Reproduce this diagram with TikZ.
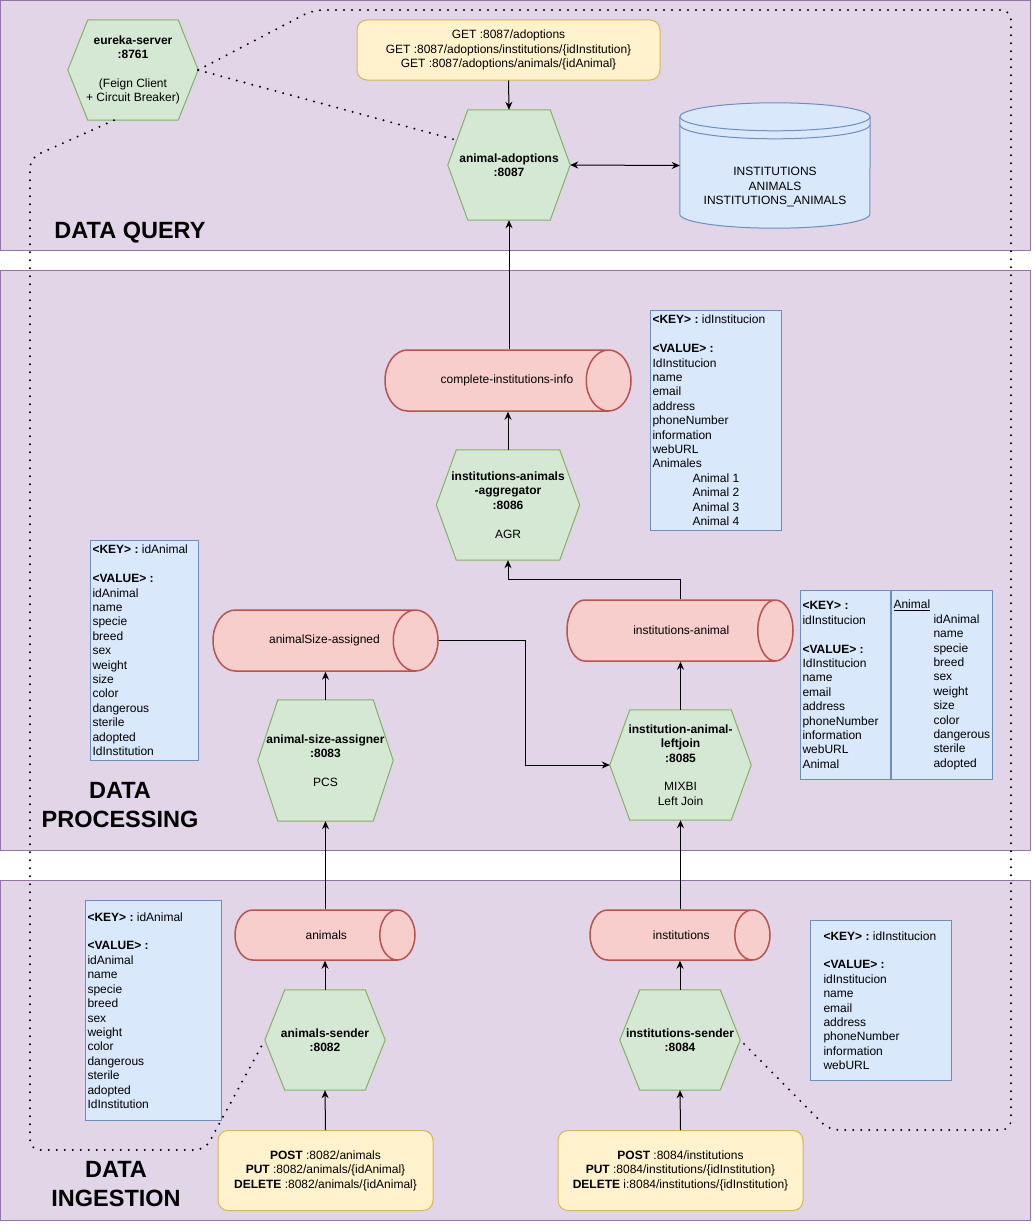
\documentclass[tikz,border=0pt]{standalone}
\usepackage{fontspec}
\setmainfont{Liberation Sans}
\usetikzlibrary{arrows.meta, positioning, shapes.geometric, calc, backgrounds}
\definecolor{laneFill}{HTML}{E1D5E7}
\definecolor{laneLine}{HTML}{9673A6}
\definecolor{hexFill}{HTML}{D5E8D4}
\definecolor{hexLine}{HTML}{82B366}
\definecolor{topicFill}{HTML}{F8CECC}
\definecolor{topicLine}{HTML}{B85450}
\definecolor{infoFill}{HTML}{DAE8FC}
\definecolor{infoLine}{HTML}{6C8EBF}
\definecolor{restFill}{HTML}{FFF2CC}
\definecolor{restLine}{HTML}{D6B656}
\pgfdeclarelayer{lanes}
\pgfsetlayers{lanes,background,main}
\frenchspacing

\begin{document}
\begin{tikzpicture}[x=1pt, y=-1pt,
    font=\fontsize{12}{14.4}\selectfont,
    lane/.style={draw=laneLine, fill=laneFill, line width=1pt},
    lanetitle/.style={font=\fontsize{23.5}{29}\selectfont\bfseries, align=center},
    service/.style={rectangle, inner sep=0pt, align=center},
    hexline/.style={draw=hexLine, fill=hexFill, line width=1pt},
    topic/.style={cylinder, draw=topicLine, line width=1.5pt, cylinder uses custom fill,
                  cylinder body fill=topicFill, cylinder end fill=topicFill,
                  aspect=4, inner sep=0pt, anchor=shape center,
                  execute at begin node=\hspace*{21pt}},
    info/.style={rectangle, draw=infoLine, fill=infoFill, line width=1pt, align=flush left,
                 inner xsep=2pt, inner ysep=0pt, anchor=north west},
    rest/.style={rectangle, rounded corners=10pt, draw=restLine, fill=restFill,
                 line width=1pt, align=center},
    flow/.style={-{Stealth[length=8pt, width=7pt]}, line width=1pt},
    dflow/.style={{Stealth[length=8pt, width=7pt]}-{Stealth[length=8pt, width=7pt]}, line width=1pt},
    registry/.style={line width=2.2pt, dash pattern=on 0pt off 8pt, line cap=round,
                     rounded corners=10pt},
  ]
    \useasboundingbox (0,0) rectangle (1031,1231);

    % lanes
    \begin{pgfonlayer}{lanes}
      \foreach \top/\bot in {0.5/250, 270/850, 880/1220}
        \draw[lane] (0.5,\top) rectangle (1030.5,\bot);
    \end{pgfonlayer}

    \node[lanetitle] (qtitle) at (130,233) {DATA QUERY};
    \node[lanetitle] (ptitle) at (120,805) {DATA\\PROCESSING};
    \node[lanetitle] (ititle) at (116,1184) {DATA\\INGESTION};

    % services
    \node[service, minimum width=130pt, minimum height=100pt] (eureka) at (133,70)
      {\textbf{eureka-server}\\\textbf{:8761}\\[14.4pt](Feign Client\\+ Circuit Breaker)};
    \node[service, minimum width=122pt, minimum height=110pt] (adoptions) at (509,165)
      {\textbf{animal-adoptions}\\\textbf{:8087}};
    \node[service, minimum width=143pt, minimum height=110pt] (aggregator) at (508,505)
      {\textbf{institutions-animals}\\\textbf{-aggregator}\\\textbf{:8086}\\[14.4pt]AGR};
    \node[service, minimum width=135pt, minimum height=121pt] (sizer) at (325.5,760.5)
      {\textbf{animal-size-assigner}\\\textbf{:8083}\\[14.4pt]PCS};
    \node[service, minimum width=141pt, minimum height=110pt] (leftjoin) at (680.5,765)
      {\textbf{institution-animal-}\\\textbf{leftjoin}\\\textbf{:8085}\\[14.4pt]MIXBI\\Left Join};
    \node[service, minimum width=120pt, minimum height=100pt] (asender) at (325,1040)
      {\textbf{animals-sender}\\\textbf{:8082}};
    \node[service, minimum width=120pt, minimum height=100pt] (isender) at (680,1040)
      {\textbf{institutions-sender}\\\textbf{:8084}};

    \node[service, minimum width=190pt, minimum height=125pt] (db) at (775,165.5)
      {\mbox{}\\[37pt]INSTITUTIONS\\ANIMALS\\INSTITUTIONS\_ANIMALS};

    \begin{pgfonlayer}{background}
      \foreach \n in {eureka, adoptions, aggregator, sizer, leftjoin, asender, isender}
        \draw[hexline] (\n.west) -- ([xshift=20pt]\n.north west) -- ([xshift=-20pt]\n.north east)
          -- (\n.east) -- ([xshift=-20pt]\n.south east) -- ([xshift=20pt]\n.south west) -- cycle;
      % data store
      \fill[infoFill] ([yshift=-14pt]db.north west) -- ([yshift=14pt]db.south west)
        arc[start angle=180, end angle=0, x radius=95, y radius=14]
        -- ([yshift=-14pt]db.north east)
        arc[start angle=0, end angle=-180, x radius=95, y radius=14] -- cycle;
      \draw[infoLine, line width=1pt] ([yshift=-14pt]db.north west) -- ([yshift=14pt]db.south west)
        arc[start angle=180, end angle=0, x radius=95, y radius=14]
        -- ([yshift=-14pt]db.north east);
      \draw[infoLine, line width=1pt] ([yshift=-14pt]db.north) ellipse [x radius=95, y radius=14];
      \draw[infoLine, line width=1pt] ([yshift=-22pt]db.north west)
        arc[start angle=180, end angle=0, x radius=95, y radius=14];
    \end{pgfonlayer}

    % topics
    \node[topic, minimum height=246pt, minimum width=61pt] (cinfo) at (508,380.5)
      {complete-institutions-info};
    \node[topic, minimum height=225pt, minimum width=61pt] (sized) at (325.5,640.5)
      {animalSize-assigned};
    \node[topic, minimum height=226pt, minimum width=61pt] (itopic) at (680,630.5)
      {institutions-animal};
    \node[topic, minimum height=180pt, minimum width=50pt] (animals) at (325,935)
      {animals};
    \node[topic, minimum height=180pt, minimum width=50pt] (institutions) at (680,935)
      {institutions};

    % endpoints
    \node[rest, minimum width=303pt, minimum height=60pt] (getapi) at (508.5,50)
      {GET :8087/adoptions\\GET :8087/adoptions/institutions/\{idInstitution\}\\
       GET :8087/adoptions/animals/\{idAnimal\}};
    \node[rest, minimum width=215pt, minimum height=80pt] (aapi) at (325.5,1170.5)
      {\textbf{POST} :8082/animals\\\textbf{PUT} :8082/animals/\{idAnimal\}\\
       \textbf{DELETE} :8082/animals/\{idAnimal\}};
    \node[rest, minimum width=245pt, minimum height=80pt] (iapi) at (680.5,1170.5)
      {\textbf{POST} :8084/institutions\\\textbf{PUT} :8084/institutions/\{idInstitution\}\\
       \textbf{DELETE} i:8084/institutions/\{idInstitution\}};

    % message schemas
    \node[info, text width=127pt, minimum height=220pt] (aggval) at (650,310)
      {\textbf{<KEY> :} idInstitucion\\[14.4pt]\textbf{<VALUE> :}\\IdInstitucion\\name\\email\\
       address\\phoneNumber\\information\\webURL\\Animales\\
       \hspace*{40pt}Animal 1\\\hspace*{40pt}Animal 2\\\hspace*{40pt}Animal 3\\\hspace*{40pt}Animal 4};
    \node[info, text width=104pt, minimum height=220pt] (sizeval) at (90,540)
      {\textbf{<KEY> :} idAnimal\\[14.4pt]\textbf{<VALUE> :}\\idAnimal\\name\\specie\\breed\\sex\\
       weight\\size\\color\\dangerous\\sterile\\adopted\\IdInstitution};
    \node[info, text width=86pt, minimum height=189pt] (joinkey) at (800,590)
      {\textbf{<KEY> :}\\idInstitucion\\[14.4pt]\textbf{<VALUE> :}\\IdInstitucion\\name\\email\\
       address\\phoneNumber\\information\\webURL\\Animal};
    \node[info, anchor=west, right=0pt of joinkey, text width=97pt, minimum height=189pt] (joinval)
      {\underline{Animal}\\\hspace*{40pt}idAnimal\\\hspace*{40pt}name\\\hspace*{40pt}specie\\
       \hspace*{40pt}breed\\\hspace*{40pt}sex\\\hspace*{40pt}weight\\\hspace*{40pt}size\\
       \hspace*{40pt}color\\\hspace*{40pt}dangerous\\\hspace*{40pt}sterile\\\hspace*{40pt}adopted};
    \node[info, text width=132pt, minimum height=220pt] (animalval) at (85,900)
      {\textbf{<KEY> :} idAnimal\\[14.4pt]\textbf{<VALUE> :}\\idAnimal\\name\\specie\\breed\\sex\\
       weight\\color\\dangerous\\sterile\\adopted\\IdInstitution};
    \node[info, inner xsep=13pt, text width=115pt, minimum height=160pt] (instval) at (810,920)
      {\textbf{<KEY> :} idInstitucion\\[14.4pt]\textbf{<VALUE> :}\\idInstitucion\\name\\email\\
       address\\phoneNumber\\information\\webURL};

    % flows
    \draw[flow] (getapi.south) -- (adoptions.north);
    \draw[dflow] (adoptions.east) -- (db.west);
    \draw[flow] (adoptions.south |- cinfo.north) -- (adoptions.south);
    \draw[flow] (aggregator.north) -- (aggregator.north |- cinfo.south);
    \draw[flow] (leftjoin.north |- itopic.north) -- ++(0,-20) -| (aggregator.south);
    \draw[flow] (sized.east) -- ++(87,0) |- (leftjoin.west);
    \draw[flow] (sizer.north) -- (sizer.north |- sized.south);
    \draw[flow] (leftjoin.north) -- (leftjoin.north |- itopic.south);
    \draw[flow] (sizer.south |- animals.north) -- (sizer.south);
    \draw[flow] (leftjoin.south |- institutions.north) -- (leftjoin.south);
    \draw[flow] (asender.north) -- (asender.north |- animals.south);
    \draw[flow] (isender.north) -- (isender.north |- institutions.south);
    \draw[flow] (aapi.north) -- (asender.south);
    \draw[flow] (iapi.north) -- (isender.south);

    % service registry links
    \coordinate (regTL) at (313,10);
    \coordinate (regTR) at (1011,10);
    \coordinate (regBR) at (1011,1130);
    \coordinate (regBL) at (829,1130);
    \coordinate (regLT) at (30,158);
    \coordinate (regLB) at (30,1150);
    \coordinate (regLR) at (205,1150);
    \draw[registry] (eureka.east) -- ($(adoptions.west)!0.45!([xshift=20pt]adoptions.north west)$);
    \draw[registry] (eureka.east) -- (regTL) -- (regTR) -- (regBR) -- (regBL) -- (isender.east);
    \draw[registry] ([xshift=-19pt]eureka.south) -- (regLT) -- (regLB) -- (regLR) -- (asender.west);
  \end{tikzpicture}
\end{document}
